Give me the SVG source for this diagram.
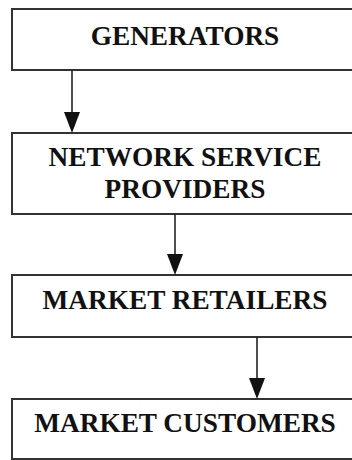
<svg xmlns="http://www.w3.org/2000/svg" width="352" height="460" viewBox="0 0 352 460">
  <defs>
    <style>
      .box { fill: #ffffff; stroke: #333333; stroke-width: 2; }
      .lbl { font-family: "Liberation Serif", "Times New Roman", serif; font-weight: bold; font-size: 27.3px; fill: #111111; text-anchor: middle; }
      .line { stroke: #222222; stroke-width: 1.6; fill: none; }
      .head { fill: #111111; stroke: none; }
    </style>
  </defs>
  <rect width="352" height="460" fill="#ffffff" />

  <g id="generators">
    <rect class="box" x="12" y="9" width="350" height="61" />
    <text class="lbl" x="185" y="45">GENERATORS</text>
  </g>

  <g id="network-service-providers">
    <rect class="box" x="12" y="133" width="350" height="81" />
    <text class="lbl" x="185" y="166">NETWORK SERVICE</text>
    <text class="lbl" x="185" y="198">PROVIDERS</text>
  </g>

  <g id="market-retailers">
    <rect class="box" x="12" y="275" width="350" height="62" />
    <text class="lbl" x="185" y="309">MARKET RETAILERS</text>
  </g>

  <g id="market-customers">
    <rect class="box" x="12" y="399" width="350" height="60" />
    <text class="lbl" x="185" y="432">MARKET CUSTOMERS</text>
  </g>

  <!-- downward flow arrows: shaft + filled triangular head -->
  <g id="connectors">
    <line class="line" x1="72" y1="70" x2="72" y2="115" />
    <path class="head" d="M64,112 L80,112 L72,133 Z" />
    <line class="line" x1="175" y1="214" x2="175" y2="257" />
    <path class="head" d="M167,254 L183,254 L175,275 Z" />
    <line class="line" x1="257" y1="337" x2="257" y2="381" />
    <path class="head" d="M249,378 L265,378 L257,399 Z" />
  </g>
</svg>
